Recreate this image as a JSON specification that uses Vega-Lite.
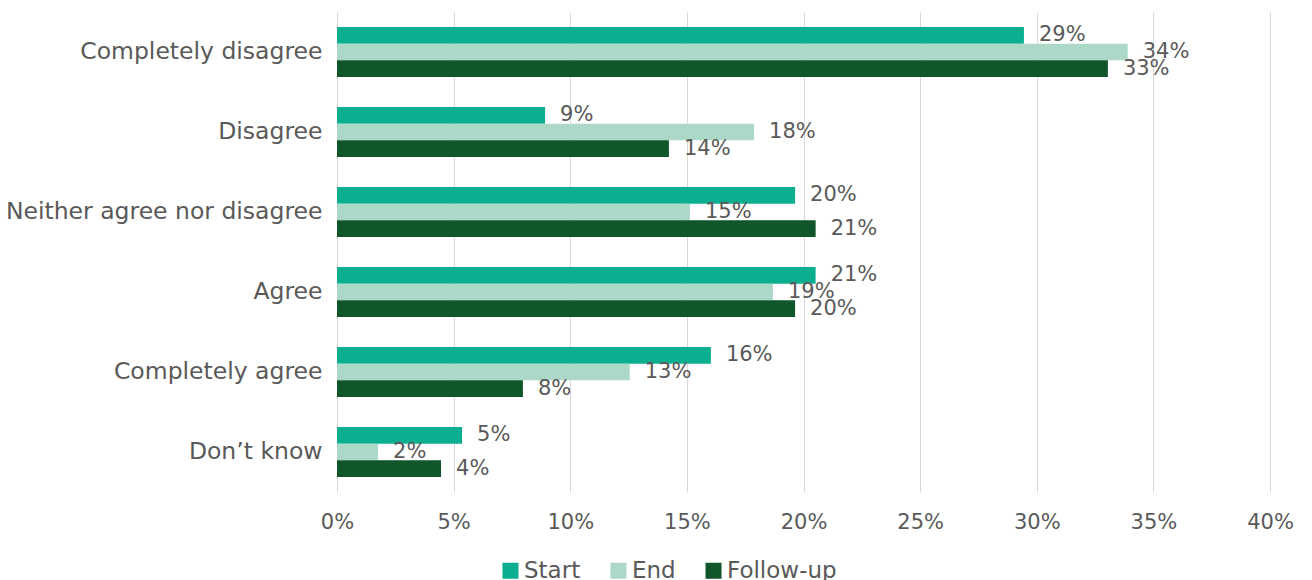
{
  "$schema": "https://vega.github.io/schema/vega-lite/v6.json",
  "width": 933,
  "height": 480,
  "autosize": "none",
  "padding": {"left": 337, "top": 12, "right": 42, "bottom": 88},
  "background": "white",
  "config": {
    "view": {"stroke": null},
    "font": "DejaVu Sans",
    "axis": {"labelFont": "DejaVu Sans", "labelColor": "#595959"},
    "legend": {"labelFont": "DejaVu Sans", "labelColor": "#595959"}
  },
  "data": {
    "values": [
      {"response": "Completely disagree", "period": "Start", "value": 0.2945},
      {"response": "Completely disagree", "period": "End", "value": 0.339},
      {"response": "Completely disagree", "period": "Follow-up", "value": 0.3305},
      {"response": "Disagree", "period": "Start", "value": 0.0892},
      {"response": "Disagree", "period": "End", "value": 0.1788},
      {"response": "Disagree", "period": "Follow-up", "value": 0.1423},
      {"response": "Neither agree nor disagree", "period": "Start", "value": 0.1964},
      {"response": "Neither agree nor disagree", "period": "End", "value": 0.1513},
      {"response": "Neither agree nor disagree", "period": "Follow-up", "value": 0.2052},
      {"response": "Agree", "period": "Start", "value": 0.2052},
      {"response": "Agree", "period": "End", "value": 0.1869},
      {"response": "Agree", "period": "Follow-up", "value": 0.1964},
      {"response": "Completely agree", "period": "Start", "value": 0.1603},
      {"response": "Completely agree", "period": "End", "value": 0.1255},
      {"response": "Completely agree", "period": "Follow-up", "value": 0.0797},
      {"response": "Don’t know", "period": "Start", "value": 0.0536},
      {"response": "Don’t know", "period": "End", "value": 0.0176},
      {"response": "Don’t know", "period": "Follow-up", "value": 0.0446}
    ]
  },
  "encoding": {
    "y": {
      "field": "response",
      "type": "nominal",
      "sort": ["Completely disagree", "Disagree", "Neither agree nor disagree", "Agree", "Completely agree", "Don’t know"],
      "scale": {"paddingInner": 0.375, "paddingOuter": 0.1875},
      "axis": {"title": null, "domain": false, "ticks": false, "labelFontSize": 23.5, "labelPadding": 15, "labelLimit": 0}
    },
    "yOffset": {
      "field": "period",
      "type": "nominal",
      "sort": ["Start", "End", "Follow-up"],
      "scale": {"paddingInner": 0, "paddingOuter": 0}
    },
    "x": {
      "field": "value",
      "type": "quantitative",
      "scale": {"domain": [0, 0.4], "nice": false},
      "axis": {
        "title": null,
        "format": ".0%",
        "values": [0, 0.05, 0.1, 0.15, 0.2, 0.25, 0.3, 0.35, 0.4],
        "domain": false,
        "ticks": false,
        "grid": true,
        "gridColor": "#D9D9D9",
        "gridWidth": 1,
        "labelFontSize": 21,
        "labelPadding": 19,
        "labelFlush": false,
        "labelOverlap": false
      }
    }
  },
  "layer": [
    {
      "mark": {"type": "bar"},
      "encoding": {
        "color": {
          "field": "period",
          "type": "nominal",
          "sort": ["Start", "End", "Follow-up"],
          "scale": {"domain": ["Start", "End", "Follow-up"], "range": ["#0BAF90", "#ACD9C7", "#11552A"]},
          "legend": {
            "title": null,
            "orient": "none",
            "direction": "horizontal",
            "legendX": 162,
            "legendY": 547,
            "symbolType": "square",
            "symbolSize": 256,
            "symbolStrokeWidth": 0,
            "labelFontSize": 23,
            "columnPadding": 26,
            "labelOffset": 2,
            "padding": 0
          }
        }
      }
    },
    {
      "mark": {"type": "text", "align": "left", "baseline": "middle", "dx": 15, "fontSize": 21, "color": "#595959"},
      "encoding": {
        "text": {"field": "value", "type": "quantitative", "format": ".0%"}
      }
    }
  ]
}
